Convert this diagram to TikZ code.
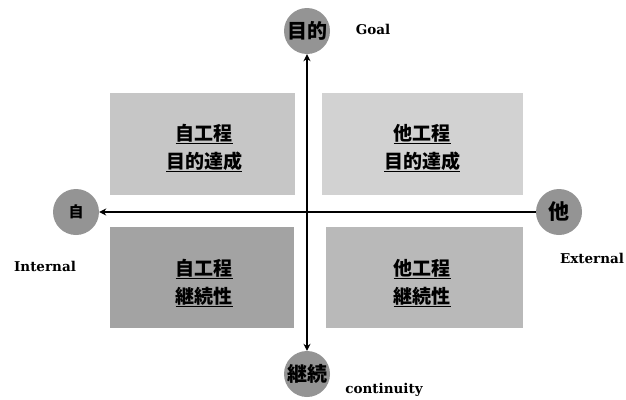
\documentclass[tikz,border=0pt]{standalone}
\usepackage{fontspec}
\setmainfont{DejaVu Serif}
\newfontfamily\cjk{Noto Sans CJK JP}
\usetikzlibrary{arrows.meta}
\tikzset{
  boxtext/.style={font=\cjk\bfseries\fontsize{19}{28}\selectfont, align=center, text=black},
  disc/.style={circle, fill=black!42, inner sep=0pt, minimum size=46pt, font=\cjk\bfseries\fontsize{20}{20}\selectfont},
  lbl/.style={font=\bfseries\fontsize{13.5}{14}\selectfont},
  axis/.style={line width=2pt, black},
  tip/.style={-{Stealth[length=7pt,width=7pt]}}
}
\begin{document}
\begin{tikzpicture}[x=1pt,y=-1pt]
\useasboundingbox (0,0) rectangle (626,399);
% quadrants
\fill[gray!45] (110,93) rectangle (295,195);
\fill[gray!35] (322,93) rectangle (523,195);
\fill[gray!72] (110,227) rectangle (294,328);
\fill[gray!55] (326,227) rectangle (523,328);
\node[boxtext] (tl) at (204,148) {\underline{自工程}\\\underline{目的達成}};
\node[boxtext] (tr) at (422,148) {\underline{他工程}\\\underline{目的達成}};
\node[boxtext] (bl) at (204,283) {\underline{自工程}\\\underline{継続性}};
\node[boxtext] (br) at (422,283) {\underline{他工程}\\\underline{継続性}};
% discs
\node[disc] (goal) at (307,31) {目的};
\node[disc] (cont) at (307,374) {継続};
\node[disc, font=\cjk\bfseries\fontsize{15}{15}\selectfont] (self) at (76,212) {自};
\node[disc, font=\cjk\bfseries\fontsize{21}{21}\selectfont] (other) at (559,212) {他};
% axes
\draw[axis, tip] (cont.north) ++(0,-3) coordinate (cn) -- (goal.south);
\draw[axis, tip] (cn) -- (cont.north);
\draw[axis, tip] (other.west) -- (self.east);
% labels
\node[lbl] (lgoal) at (373,29) {Goal};
\node[lbl] (lint) at (45,266) {Internal};
\node[lbl] (lext) at (592,258) {External};
\node[lbl] (lcont) at (384,390) {continuity};
\end{tikzpicture}
\end{document}
